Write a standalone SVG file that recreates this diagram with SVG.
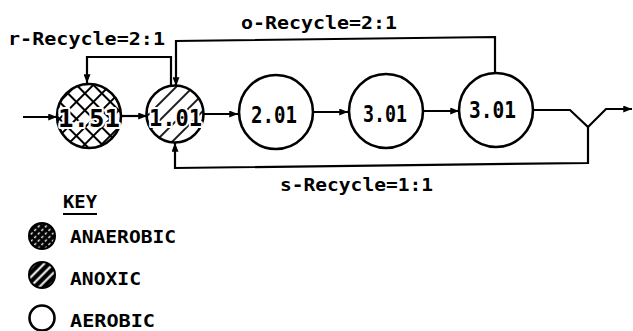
<svg xmlns="http://www.w3.org/2000/svg" width="633" height="331" viewBox="0 0 633 331">
<defs>
<style>
.ln{fill:none;stroke:#000;stroke-width:2.2;stroke-linejoin:miter}
.node{stroke:#000;stroke-width:2.6}
.txt{font-family:"DejaVu Sans Mono","Liberation Mono",monospace;font-weight:bold;fill:#000}
.lbl{font-size:18px}
.halo{stroke:#fff;stroke-width:4;paint-order:stroke;stroke-linejoin:round}
</style>
<marker id="ah" viewBox="0 0 10 8" refX="10" refY="4" markerWidth="9" markerHeight="7" markerUnits="userSpaceOnUse" orient="auto"><path d="M0,0 L10,4 L0,8 z" fill="#000"/></marker>
<pattern id="xh" width="12" height="12" patternUnits="userSpaceOnUse" patternTransform="rotate(45)"><rect width="12" height="12" fill="#fff"/><path d="M0,6H12M6,0V12" stroke="#000" stroke-width="2"/></pattern>
<pattern id="dg" width="12" height="12" patternUnits="userSpaceOnUse" patternTransform="rotate(-45)"><rect width="12" height="12" fill="#fff"/><path d="M0,6H12" stroke="#000" stroke-width="1.8"/></pattern>
<pattern id="kan" width="5" height="5" patternUnits="userSpaceOnUse" patternTransform="rotate(-45)"><rect width="5" height="5" fill="#000"/><rect x="1" y="1.8" width="2.6" height="1.4" fill="#fff"/></pattern>
<pattern id="kax" width="6.5" height="6.5" patternUnits="userSpaceOnUse" patternTransform="rotate(-45)"><rect width="6.5" height="6.5" fill="#000"/><path d="M0,3.25H6.5" stroke="#fff" stroke-width="2"/></pattern>
</defs>
<rect width="633" height="331" fill="#fff"/>

<g id="connectors">
<path class="ln" d="M23,117 H57" marker-end="url(#ah)"/>
<path class="ln" d="M121,116 H147" marker-end="url(#ah)"/>
<path class="ln" d="M203,114 H238" marker-end="url(#ah)"/>
<path class="ln" d="M313,112 H348" marker-end="url(#ah)"/>
<path class="ln" d="M423,111 H459" marker-end="url(#ah)"/>
<path class="ln" d="M534,110 H570 L588,127 L606,109 H632" marker-end="url(#ah)"/>
<path class="ln" d="M495,73 V37 L176,41 V86" marker-end="url(#ah)"/>
<path class="ln" d="M171,85 V57 H87 V83" marker-end="url(#ah)"/>
<path class="ln" d="M588,127 V163 L175,168 V143" marker-end="url(#ah)"/>
<text class="txt lbl" x="8" y="45" textLength="157" lengthAdjust="spacingAndGlyphs">r-Recycle=2:1</text>
<text class="txt lbl" x="241" y="29" textLength="156" lengthAdjust="spacingAndGlyphs">o-Recycle=2:1</text>
<text class="txt lbl" x="280" y="191" textLength="153" lengthAdjust="spacingAndGlyphs">s-Recycle=1:1</text>
</g>

<g id="node-1-51">
<circle class="node" cx="89" cy="116" r="32" fill="url(#xh)" stroke-width="3"/>
<text class="txt halo" x="58" y="127" font-size="24" textLength="62" lengthAdjust="spacingAndGlyphs">1.51</text>
</g>
<g id="node-1-01">
<circle class="node" cx="175" cy="114" r="28.5" fill="url(#dg)"/>
<text class="txt halo" x="149" y="126" font-size="23" textLength="53" lengthAdjust="spacingAndGlyphs">1.01</text>
</g>
<g id="node-2-01">
<circle class="node" cx="276" cy="112" r="37" fill="#fff"/>
<text class="txt" x="251" y="123" font-size="23" textLength="46" lengthAdjust="spacingAndGlyphs">2.01</text>
</g>
<g id="node-3-01a">
<circle class="node" cx="386" cy="111" r="37" fill="#fff"/>
<text class="txt" x="363" y="122" font-size="23" textLength="44" lengthAdjust="spacingAndGlyphs">3.01</text>
</g>
<g id="node-3-01b">
<circle class="node" cx="496" cy="110" r="37" fill="#fff"/>
<text class="txt" x="469" y="118" font-size="23" textLength="47" lengthAdjust="spacingAndGlyphs">3.01</text>
</g>

<g id="key">
<text class="txt lbl" x="63" y="208" textLength="34" lengthAdjust="spacingAndGlyphs">KEY</text>
<line x1="63" y1="214" x2="97" y2="214" stroke="#000" stroke-width="2"/>
<g id="key-anaerobic">
<circle cx="42" cy="236" r="13" fill="url(#kan)" stroke="#000" stroke-width="2"/>
<text class="txt lbl" x="70" y="243" textLength="106" lengthAdjust="spacingAndGlyphs">ANAEROBIC</text>
</g>
<g id="key-anoxic">
<circle cx="42" cy="275" r="13" fill="url(#kax)" stroke="#000" stroke-width="2"/>
<text class="txt lbl" x="70" y="285" textLength="71" lengthAdjust="spacingAndGlyphs">ANOXIC</text>
</g>
<g id="key-aerobic">
<circle cx="42" cy="318" r="12.5" fill="#fff" stroke="#000" stroke-width="2.6"/>
<text class="txt lbl" x="70" y="327" textLength="85" lengthAdjust="spacingAndGlyphs">AEROBIC</text>
</g>
</g>
</svg>
